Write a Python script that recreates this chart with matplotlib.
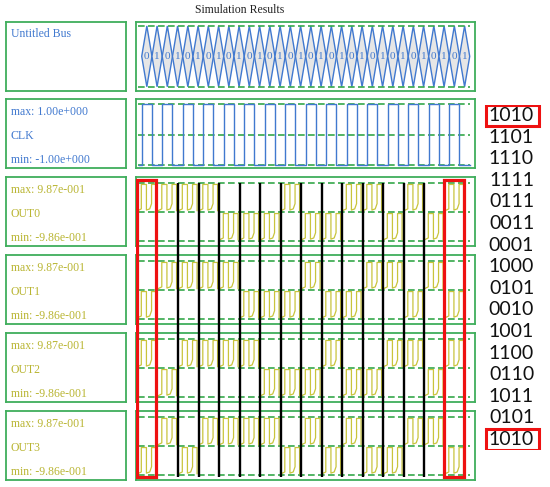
import matplotlib
matplotlib.use("Agg")
import matplotlib.pyplot as plt
from matplotlib.patches import Rectangle, Polygon

# counter states, bit order OUT0 OUT1 OUT2 OUT3
states = ["1010", "1101", "1110", "1111", "0111", "0011", "0001", "1000",
          "0101", "0010", "1001", "1100", "0110", "1011", "0101", "1010"]
signal_names = ["OUT0", "OUT1", "OUT2", "OUT3"]
out_max_label = "max: 9.87e-001"
out_min_label = "min: -9.86e-001"
out_max, out_min = 0.987, -0.986
clk_max_label = "max: 1.00e+000"
clk_min_label = "min: -1.00e+000"
bus_bits = [0, 1, 0, 1, 0, 1, 0, 1, 0, 1, 0, 1, 0, 1, 0, 1,
            0, 1, 0, 1, 0, 1, 0, 1, 0, 1, 0, 1, 0, 1, 0, 1]
clk_levels = [1, -1, 1, -1, 1, -1, 1, -1, 1, -1, 1, -1, 1, -1, 1, -1,
              1, -1, 1, -1, 1, -1, 1, -1, 1, -1, 1, -1, 1, -1, 1, -1]
marked_slots = [0, 15]
divider_slots = [2, 3, 4, 5, 6, 7, 8, 9, 10, 11, 12, 13, 14]

BLUE = "#4179cf"
OLIVE = "#b9b532"
WAVE_Y = "#c9c43c"
GREEN = "#3fae5c"
DASH_G = "#35a84a"
SERIF = "Liberation Serif"

W, H = 550, 487
fig = plt.figure(figsize=(5.5, 4.87), dpi=100)


def px_axes(x0, y0, x1, y1):
    ax = fig.add_axes([x0 / W, 1 - y1 / H, (x1 - x0) / W, (y1 - y0) / H])
    ax.set_xticks([])
    ax.set_yticks([])
    for s in ax.spines.values():
        s.set_color(GREEN)
        s.set_linewidth(1.3)
    return ax


# time axis: one slot per counter state, clock/bus edges shifted a bit
t_left, t_right = (136 - 137) / 20.5, (475 - 137) / 20.5
clk_offset = 0.23
half = 0.5

rows = [22, 99, 177, 255, 333, 411]
row_h = 69

fig.text(240 / W, 1 - 10 / H, "Simulation Results", ha="center", va="center",
         family=SERIF, fontsize=8.5, color="#222222")

# ---- bus row
lab = px_axes(6, rows[0], 126, rows[0] + row_h)
lab.text(0.04, 0.83, "Untitled Bus", color=BLUE, family=SERIF, fontsize=8.5,
         transform=lab.transAxes, va="center")
ax = px_axes(136, rows[0], 475, rows[0] + row_h)
ax.set_xlim(t_left, t_right)
ax.set_ylim(-1.14, 1.13)
for yv in [1, -1]:
    ax.plot([0.05, 16.25], [yv, yv], color=DASH_G, lw=1.2, ls=(0, (4, 2)))
for i, b in enumerate(bus_bits):
    t0 = clk_offset + i * half
    ax.add_patch(Polygon([(t0, 0), (t0 + half / 2, 1), (t0 + half, 0), (t0 + half / 2, -1)],
                         closed=True, fc="#e6e6e6", ec=BLUE, lw=1.0))
    ax.text(t0 + half / 2, 0, str(b), color=BLUE, family=SERIF, fontsize=8,
            ha="center", va="center")

# ---- clock row
lab = px_axes(6, rows[1], 126, rows[1] + row_h)
for yy, s in zip([0.81, 0.46, 0.12], [clk_max_label, "CLK", clk_min_label]):
    lab.text(0.04, yy, s, color=BLUE, family=SERIF, fontsize=8.5,
             transform=lab.transAxes, va="center")
ax = px_axes(136, rows[1], 475, rows[1] + row_h)
ax.set_xlim(t_left, t_right)
ax.set_ylim(-1.1, 1.18)
for yv in [1, 0, -1]:
    ax.plot([0.05, 16.25], [yv, yv], color=DASH_G, lw=1.2, ls=(0, (4, 2)))
xs = [0.12] + [clk_offset + i * half for i in range(len(clk_levels))] + [clk_offset + len(clk_levels) * half]
ys = [-1] + clk_levels + [-1]
ax.step(xs, ys, where="post", color=BLUE, lw=1.0)

# ---- output rows
shape = [(0.03, 0.06), (0.21, 0.12), (0.21, 0.96), (0.46, 0.96), (0.46, 0.08),
         (0.62, 0.12), (0.71, 0.3), (0.71, 0.96), (0.93, 0.96), (0.93, 0.06)]
for n, name in enumerate(signal_names):
    top = rows[2 + n]
    lab = px_axes(6, top, 126, top + row_h)
    for yy, s in zip([0.81, 0.46, 0.12], [out_max_label, name, out_min_label]):
        lab.text(0.04, yy, s, color=OLIVE, family=SERIF, fontsize=8.5,
                 transform=lab.transAxes, va="center")
    ax = px_axes(136, top, 475, top + row_h)
    ax.set_xlim(t_left, t_right)
    ax.set_ylim(-1.14, 1.2)
    for yv in [out_max, 0, out_min]:
        ax.plot([0.05, 16.25], [yv, yv], color=DASH_G, lw=1.2, ls=(0, (4, 2)))
    for k, st in enumerate(states):
        bit = st[n] == "1"
        lo, hi = (0, out_max) if bit else (out_min, 0)
        px = [k + u for u, f in shape]
        py = [lo + f * (hi - lo) for u, f in shape]
        ax.plot(px, py, color=WAVE_Y, lw=0.9)

# ---- slot dividers and highlighted slots across the outputs
ov = fig.add_axes([136 / W, 1 - 480 / H, (475 - 136) / W, (480 - 177) / H])
ov.patch.set_visible(False)
ov.axis("off")
ov.set_xlim(t_left, t_right)
ov.set_ylim(0, 1)
ov.vlines(divider_slots, 0.01, 0.98, color="black", lw=1.7)
for k in marked_slots:
    ov.add_patch(Rectangle((k - 0.02, 0.01), 0.97, 0.98, fill=False, ec="#ee1111", lw=2.3))

# ---- state list on the right
sa = fig.add_axes([480 / W, 1 - 450.3 / H, 70 / W, (450.3 - 104.7) / H])
sa.patch.set_visible(False)
sa.axis("off")
sa.set_xlim(0, 1)
sa.set_ylim(len(states) - 0.5, -0.5)
for i, st in enumerate(states):
    sa.text(0.45, i, st, ha="center", va="center", family="Lato",
            fontsize=14, color="#111111")
for k in marked_slots:
    sa.add_patch(Rectangle((0.08, k - 0.48), 0.76, 0.98, fill=False, ec="#ee1111", lw=2.2))

fig.savefig("out.png", dpi=100)
